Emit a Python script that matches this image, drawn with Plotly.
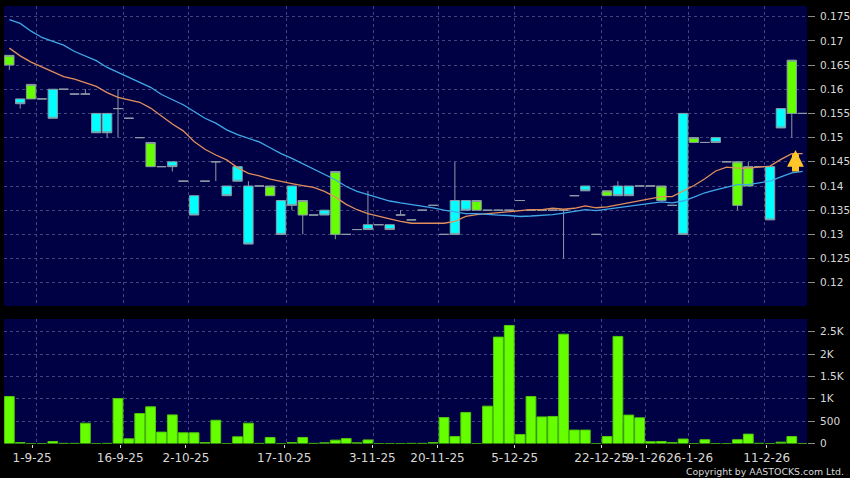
import plotly.graph_objects as go

index = list(range(74))
opens = [.165,.158,.158,.158,.160,.160,.159,.159,.155,.155,.156,.154,.150,.144,.144,.145,.141,.138,.141,.145,
         .140,.144,.140,.140,.138,.137,.140,.134,.134,.135,.130,.130,.131,.132,.132,.132,.134,.133,.135,.136,
         .130,.137,.137,.135,.135,.135,.135,.137,.135,.135,.135,.135,.138,.140,.130,.138,.140,.140,.140,.140,
         .137,.136,.155,.149,.149,.150,.145,.136,.140,.144,.144,.156,.155,.155]
highs = [.167,.158,.161,.158,.160,.160,.159,.160,.155,.155,.160,.154,.150,.149,.144,.145,.141,.138,.141,.145,
         .140,.144,.141,.140,.140,.137,.140,.137,.134,.135,.143,.130,.131,.139,.132,.132,.135,.133,.135,.136,
         .130,.145,.137,.137,.135,.135,.135,.137,.135,.135,.135,.135,.138,.140,.130,.139,.141,.140,.140,.140,
         .140,.136,.155,.150,.149,.150,.145,.145,.145,.144,.144,.156,.166,.155]
lows = [.164,.156,.158,.158,.154,.160,.159,.159,.151,.150,.150,.154,.150,.144,.144,.143,.141,.134,.141,.141,
        .138,.141,.128,.140,.138,.130,.135,.130,.134,.134,.129,.130,.131,.131,.132,.131,.134,.133,.135,.136,
        .130,.130,.135,.135,.135,.135,.135,.137,.135,.135,.135,.125,.138,.139,.130,.138,.138,.138,.140,.140,
        .137,.136,.130,.149,.149,.149,.145,.135,.140,.144,.133,.152,.150,.155]
closes = [.167,.157,.161,.158,.154,.160,.159,.159,.151,.151,.156,.154,.150,.149,.144,.144,.141,.134,.141,.145,
          .138,.141,.128,.140,.140,.130,.136,.137,.134,.134,.143,.130,.131,.131,.132,.131,.134,.133,.135,.136,
          .130,.130,.135,.137,.135,.135,.135,.137,.135,.135,.135,.135,.138,.139,.130,.139,.138,.138,.140,.140,
          .140,.136,.130,.150,.149,.149,.145,.145,.144,.144,.133,.152,.166,.155]
ma_blue = [.1744,.1736,.1720,.1707,.1699,.1691,.1678,.1668,.1659,.1645,.1635,.1624,.1614,.1604,.1589,.1578,.1568,.1554,.1540,.1530,
           .1516,.1506,.1499,.1491,.1479,.1467,.1457,.1446,.1434,.1424,.1413,.1399,.1389,.1382,.1375,.1369,.1365,.1362,.1359,.1355,
           .1350,.1346,.1343,.1343,.1341,.1340,.1339,.1337,.1338,.1339,.1341,.1344,.1347,.1351,.1349,.1352,.1355,.1358,.1361,.1363,
           .1367,.1365,.1369,.1377,.1386,.1392,.1397,.1403,.1403,.1407,.1410,.1419,.1427,.1430]
ma_orange = [.1685,.1669,.1656,.1646,.1635,.1626,.1621,.1613,.1606,.1593,.1583,.1578,.1573,.1561,.1544,.1528,.1514,.1492,.1476,.1464,
             .1454,.1438,.1426,.1421,.1414,.1409,.1405,.1401,.1397,.1389,.1377,.1362,.1351,.1343,.1337,.1332,.1327,.1323,.1323,.1323,
             .1323,.1327,.1337,.1341,.1343,.1346,.1348,.1350,.1351,.1351,.1354,.1352,.1354,.1359,.1355,.1357,.1361,.1365,.1370,.1374,
             .1378,.1378,.1390,.1401,.1415,.1431,.1439,.1437,.1437,.1439,.1441,.1455,.1467,.1467]
volumes = [1050,20,0,0,45,3,3,455,0,3,1005,105,670,820,255,640,240,240,20,520,
           0,150,455,3,135,0,20,135,3,15,75,110,15,80,0,0,0,3,3,20,
           580,155,695,0,835,2380,2640,200,1050,595,605,2445,300,300,0,155,2395,635,575,40,
           45,20,100,0,85,0,0,85,210,5,0,30,155,0]
grid_index = [2.5,10.5,16.5,25.5,33.5,39.5,46.5,54.5,58.5,62.5,69.5]
tick_index = [2.1,10.2,16.25,25.3,33.4,39.4,46.5,54.5,58.6,62.6,69.7]
tick_dates = ["1-9-25","16-9-25","2-10-25","17-10-25","3-11-25","20-11-25","5-12-25","22-12-25","9-1-26","26-1-26","11-2-26"]
price_ticks = [.12,.125,.13,.135,.14,.145,.15,.155,.16,.165,.17,.175]
price_labels = ["0.12","0.125","0.13","0.135","0.14","0.145","0.15","0.155","0.16","0.165","0.17","0.175"]
vol_ticks = [0,500,1000,1500,2000,2500]
vol_labels = ["0","500","1K","1.5K","2K","2.5K"]

W, H = 850, 478
FONT = dict(family="DejaVu Sans", size=12, color="#d8d8d8")
YFONT = dict(family="DejaVu Sans", size=10.5, color="#d8d8d8")
GRID = "#44447c"
DASH = "3px,3px"
xr = [-0.49, 73.4]
xdom = [4/W, 807/W]

fig = go.Figure()
fig.add_trace(go.Candlestick(x=index, open=opens, high=highs, low=lows, close=closes, whiskerwidth=0,
    increasing=dict(fillcolor="#66ff00", line=dict(color="#8c9aa6", width=1)),
    decreasing=dict(fillcolor="#00ffff", line=dict(color="#8c9aa6", width=1)),
    xaxis="x", yaxis="y", showlegend=False))
fig.add_trace(go.Scatter(x=index, y=ma_orange, mode="lines", line=dict(color="#e08f5c", width=1.3), xaxis="x", yaxis="y", showlegend=False))
fig.add_trace(go.Scatter(x=index, y=ma_blue, mode="lines", line=dict(color="#3fa9e8", width=1.3), xaxis="x", yaxis="y", showlegend=False))
fig.add_trace(go.Bar(x=index, y=volumes, marker=dict(color="#66ff00", line=dict(color="#4fc808", width=1)),
    xaxis="x2", yaxis="y2", showlegend=False))

fig.update_layout(
    width=W, height=H, margin=dict(l=0, r=0, t=0, b=0, autoexpand=False), autosize=False,
    paper_bgcolor="#000000", plot_bgcolor="#000044", font=FONT, bargap=0.1, boxgap=0.14, boxgroupgap=0,
    xaxis=dict(domain=xdom, range=xr, anchor="y", rangeslider=dict(visible=False), tickmode="array",
               tickvals=grid_index, ticktext=[""]*len(grid_index), showgrid=True, gridcolor=GRID, griddash=DASH, gridwidth=1, ticks="", zeroline=False),
    yaxis=dict(domain=[1-306/H, 1-6/H], range=[0.1152, 0.1772], side="right", anchor="x", tickmode="array",
               tickvals=price_ticks, ticktext=price_labels, showgrid=True, gridcolor=GRID, griddash=DASH, gridwidth=1,
               ticks="outside", ticklen=7, tickcolor="#8a8a8a", tickfont=YFONT, ticklabelstandoff=3, zeroline=False),
    xaxis2=dict(domain=xdom, range=xr, anchor="y2", tickmode="array", tickvals=grid_index, ticktext=[""]*len(grid_index),
                showgrid=True, gridcolor=GRID, griddash=DASH, gridwidth=1, ticks="", zeroline=False),
    xaxis3=dict(domain=xdom, range=xr, anchor="y2", overlaying="x2", side="bottom", tickmode="array", tickvals=tick_index, ticktext=tick_dates,
                showgrid=False, ticks="outside", ticklen=3, tickcolor="#d8d8d8", tickangle=0, zeroline=False),
    yaxis2=dict(domain=[1-443.5/H, 1-319/H], range=[0, 2785], side="right", anchor="x2", tickmode="array",
                tickvals=vol_ticks, ticktext=vol_labels, showgrid=True, gridcolor=GRID, griddash=DASH, gridwidth=1,
                ticks="outside", ticklen=7, tickcolor="#8a8a8a", tickfont=YFONT, ticklabelstandoff=3, zeroline=False),
    annotations=[
        dict(text="Copyright by AASTOCKS.com Ltd.", xref="paper", yref="paper", x=845/W, y=0, xanchor="right", yanchor="bottom",
             showarrow=False, font=dict(family="DejaVu Sans", size=9.4, color="#d8d8d8"), borderpad=0),
        dict(x=72.34, y=0.14744, xref="x", yref="y", ax=0, ay=23, text="", showarrow=True, arrowhead=2, arrowsize=0.48, arrowwidth=7, arrowcolor="#ffc629"),
    ],
)
# dummy trace so the label axis is drawn
fig.add_trace(go.Scatter(x=[index[0]], y=[None], xaxis="x3", yaxis="y2", showlegend=False, hoverinfo="skip"))

fig.write_html("out.html", post_script="document.body.style.margin='0';", config={"displayModeBar": False})
